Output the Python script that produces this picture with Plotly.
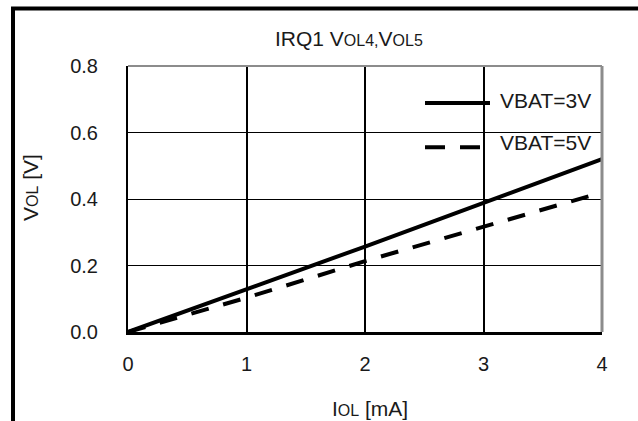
import plotly.graph_objects as go

# Output low-level voltage vs. output low-level current
iol_ma = [0, 1, 2, 3, 4]
vol_vbat3 = [0.0, 0.127, 0.257, 0.388, 0.52]
vol_vbat5 = [0.0, 0.103, 0.213, 0.316, 0.42]
series_names = ["VBAT=3V", "VBAT=5V"]

x_tickvals = [0, 1, 2, 3, 4]
x_ticktext = ["0", "1", "2", "3", "4"]
y_tickvals = [0.0, 0.2, 0.4, 0.6, 0.8]
y_ticktext = ["0.0", "0.2", "0.4", "0.6", "0.8"]

FONT = "Liberation Sans, Arial, sans-serif"
INK = "#1a1a1a"
SC = "<span style='font-size:16px'>{}</span>"

fig = go.Figure()
fig.add_trace(go.Scatter(
    x=iol_ma, y=vol_vbat3, mode="lines", name=series_names[0],
    line=dict(color="black", width=4), showlegend=False))
fig.add_trace(go.Scatter(
    x=iol_ma, y=vol_vbat5, mode="lines", name=series_names[1],
    line=dict(color="black", width=4, dash="18px,15px"), showlegend=False))

fig.update_layout(
    width=638, height=421, autosize=False,
    margin=dict(l=128, r=36, t=66, b=89, pad=0),
    paper_bgcolor="white", plot_bgcolor="white",
    font=dict(family=FONT, color=INK, size=20),
    xaxis=dict(
        range=[0, 4], tickvals=x_tickvals, ticktext=x_ticktext,
        showgrid=True, gridcolor="black", gridwidth=1.5,
        showline=True, linecolor="black", linewidth=3,
        ticks="outside", ticklen=12, tickcolor="rgba(0,0,0,0)",
        tickfont=dict(size=20), zeroline=False, fixedrange=True),
    yaxis=dict(
        range=[0, 0.8], tickvals=y_tickvals, ticktext=y_ticktext,
        showgrid=True, gridcolor="black", gridwidth=1.3,
        showline=True, linecolor="black", linewidth=2,
        ticks="outside", ticklen=24, tickcolor="rgba(0,0,0,0)",
        tickfont=dict(size=20), zeroline=False, fixedrange=True),
)

shapes = [
    # gray top and right edges of the plot box
    dict(type="line", xref="paper", yref="paper", x0=0, x1=1, y0=1, y1=1,
         line=dict(color="#8c8c8c", width=2), layer="above"),
    dict(type="line", xref="paper", yref="paper", x0=1, x1=1, y0=0, y1=1,
         line=dict(color="#8c8c8c", width=3), layer="above"),
    # outer frame (left and top)
    dict(type="line", xref="paper", yref="paper", x0=-0.2426, x1=-0.2426,
         y0=-0.45, y1=1.222, line=dict(color="black", width=4)),
    dict(type="line", xref="paper", yref="paper", x0=-0.2468, x1=1.2,
         y0=1.216, y1=1.216, line=dict(color="black", width=4)),
    # legend samples
    dict(type="line", xref="paper", yref="paper", x0=0.6266, x1=0.7637,
         y0=0.861, y1=0.861, line=dict(color="black", width=4), layer="above"),
    dict(type="line", xref="paper", yref="paper", x0=0.6266, x1=0.7426,
         y0=0.695, y1=0.695, line=dict(color="black", width=4, dash="20px,15px"),
         layer="above"),
]
fig.update_layout(shapes=shapes)

annotations = [
    dict(text="IRQ1 V" + SC.format("OL4,") + "V" + SC.format("OL5"),
         x=0.466, y=1.103, xref="paper", yref="paper",
         xanchor="center", yanchor="middle", showarrow=False,
         font=dict(size=21)),
    dict(text="V" + SC.format("OL") + " [V]", textangle=-90,
         x=-0.207, y=0.545, xref="paper", yref="paper",
         xanchor="center", yanchor="middle", showarrow=False,
         font=dict(size=21)),
    dict(text="I" + SC.format("OL") + " [mA]",
         x=0.51, y=-0.286, xref="paper", yref="paper",
         xanchor="center", yanchor="middle", showarrow=False,
         font=dict(size=21)),
    dict(text=series_names[0], x=0.781, y=0.872, xref="paper", yref="paper",
         xanchor="left", yanchor="middle", showarrow=False, font=dict(size=21)),
    dict(text=series_names[1], x=0.781, y=0.714, xref="paper", yref="paper",
         xanchor="left", yanchor="middle", showarrow=False, font=dict(size=21)),
]
fig.update_layout(annotations=annotations)

fig.write_html("out.html")
